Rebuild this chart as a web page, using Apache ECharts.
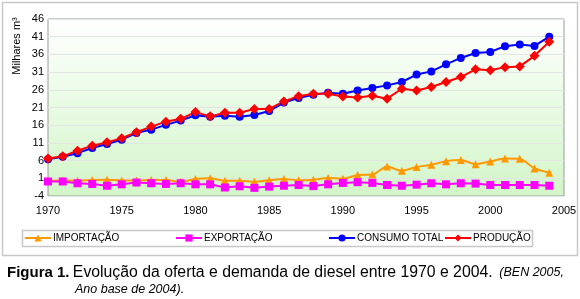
<!DOCTYPE html>
<html>
<head>
<meta charset="utf-8">
<script src="https://cdn.jsdelivr.net/npm/echarts@6/dist/echarts.min.js"></script>
<style>
  html, body { margin: 0; padding: 0; background: #fff; }
  #chart { width: 580px; height: 299px; }
</style>
</head>
<body>
<div id="chart"></div>
<script>
// anos 1970..2004
const years = [];
for (let y = 1970; y <= 2004; y++) years.push(y);

const importacao = [0.3, 0.4, 0.3, 0.5, 0.6, 0.4, 0.4, 0.5, 0.5, 0.0,
  0.8, 1.0, 0.3, 0.3, 0.0, 0.45, 0.8, 0.45, 0.6, 1.1,
  0.9, 1.9, 2.05, 4.3, 3.1, 4.2, 4.8, 5.85, 6.2, 5.0,
  5.75, 6.6, 6.5, 3.8, 2.6];
const exportacao = [0.1, 0.1, -0.4, -0.6, -1.1, -0.7, -0.2, -0.4, -0.6, -0.4,
  -0.7, -0.7, -1.6, -1.25, -1.7, -1.35, -1.1, -0.9, -1.2, -0.7,
  -0.3, -0.1, -0.3, -0.9, -1.1, -0.8, -0.4, -0.7, -0.4, -0.5,
  -0.9, -0.9, -0.9, -0.9, -1.1];
const consumoTotal = [6.4, 7.1, 8.1, 9.55, 10.7, 11.9, 13.8, 14.75, 16.1, 17.3,
  18.8, 18.4, 18.7, 18.4, 18.9, 20.0, 22.4, 23.7, 24.6, 25.2,
  24.9, 25.8, 26.5, 27.25, 28.2, 30.3, 31.2, 33.2, 35.0, 36.4,
  36.7, 38.3, 38.8, 38.4, 41.0];
const producao = [6.6, 7.2, 8.8, 10.2, 11.15, 12.3, 14.0, 15.6, 17.0, 17.8,
  19.7, 18.5, 19.5, 19.5, 20.6, 20.6, 22.7, 24.2, 24.9, 24.9,
  24.1, 23.8, 24.3, 23.5, 26.3, 25.8, 26.8, 28.2, 29.6, 31.8,
  31.5, 32.4, 32.6, 35.6, 39.6];

const yTicks = [-4, 1, 6, 11, 16, 21, 26, 31, 36, 41, 46];

const pairs = arr => arr.map((v, i) => [years[i], v]);
const font = 'Arial, "Liberation Sans", sans-serif';

const chart = echarts.init(document.getElementById('chart'));

const legendItem = (name, left) => ({
  data: [name],
  left: left,
  top: 233,
  padding: 0,
  itemWidth: 26,
  itemHeight: 9,
  itemGap: 0,
  selectedMode: false,
  textStyle: { fontFamily: font, fontSize: 10, color: '#000', padding: [0, 0, 0, -3] }
});

chart.setOption({
  animation: false,
  grid: {
    left: 48, top: 19, right: 16, bottom: 103,
    show: true,
    borderColor: '#9a9a9a',
    borderWidth: 1,
    backgroundColor: {
      type: 'linear', x: 0, y: 0, x2: 0, y2: 1,
      colorStops: [
        { offset: 0, color: '#ffffff' },
        { offset: 1, color: '#d2f5c8' }
      ]
    }
  },
  legend: [
    legendItem('IMPORTAÇÃO', 24),
    legendItem('EXPORTAÇÃO', 175),
    legendItem('CONSUMO TOTAL', 328),
    legendItem('PRODUÇÃO', 444)
  ],
  xAxis: {
    type: 'value',
    min: 1970, max: 2005, interval: 5,
    axisLine: { show: false },
    axisTick: { show: false },
    splitLine: { show: false },
    axisLabel: {
      fontFamily: font, fontSize: 11, color: '#000', margin: 9,
      formatter: v => String(v)
    }
  },
  yAxis: {
    type: 'value',
    min: -4, max: 46,
    axisLine: { show: false },
    axisTick: { show: false, customValues: yTicks },
    axisLabel: { customValues: yTicks, fontFamily: font, fontSize: 11, color: '#000', margin: 4 },
    splitLine: { show: true, lineStyle: { color: '#e2e6e2', width: 1 } }
  },
  series: [
    {
      name: 'IMPORTAÇÃO', type: 'line', data: pairs(importacao),
      smooth: 0.25,
      symbol: 'triangle', symbolSize: 8,
      itemStyle: { color: '#ff9900' },
      lineStyle: { color: '#ff9900', width: 2 }
    },
    {
      name: 'EXPORTAÇÃO', type: 'line', data: pairs(exportacao),
      symbol: 'rect', symbolSize: 8,
      itemStyle: { color: '#ff00ff' },
      lineStyle: { color: '#ff00ff', width: 2 }
    },
    {
      name: 'CONSUMO TOTAL', type: 'line', data: pairs(consumoTotal),
      symbol: 'circle', symbolSize: 8,
      itemStyle: { color: '#0000ff' },
      lineStyle: { color: '#0000ff', width: 2 }
    },
    {
      name: 'PRODUÇÃO', type: 'line', data: pairs(producao),
      symbol: 'diamond', symbolSize: 10,
      itemStyle: { color: '#ff0000' },
      lineStyle: { color: '#ff0000', width: 2 }
    }
  ],
  graphic: [
    {
      type: 'rect', silent: true, z: -10,
      shape: { x: 2.5, y: 2.5, width: 575, height: 253 },
      style: { fill: 'none', stroke: '#c8c8c8', lineWidth: 1.5 }
    },
    {
      type: 'rect', silent: true,
      shape: { x: 22.5, y: 230.5, width: 510, height: 16 },
      style: { fill: 'none', stroke: '#c8c8c8', lineWidth: 1.5 }
    },
    {
      type: 'text', silent: true,
      x: 17, y: 46, rotation: Math.PI / 2,
      style: {
        text: 'Milhares m³', font: '11px ' + font, fill: '#000',
        align: 'center', verticalAlign: 'middle'
      }
    },
    {
      type: 'text', silent: true,
      x: 7, y: 273,
      style: {
        text: '{b|Figura 1.} {n|Evolução da oferta e demanda de diesel entre 1970 e 2004.}  {i|(BEN 2005,}',
        verticalAlign: 'middle',
        rich: {
          b: { fontFamily: font, fontSize: 15, fontWeight: 'bold', fill: '#000' },
          n: { fontFamily: font, fontSize: 15.8, fill: '#000' },
          i: { fontFamily: font, fontSize: 12.5, fontStyle: 'italic', fill: '#000' }
        }
      }
    },
    {
      type: 'text', silent: true,
      x: 75, y: 290,
      style: {
        text: 'Ano base de 2004).', font: 'italic 12.5px ' + font, fill: '#000',
        verticalAlign: 'middle'
      }
    }
  ]
});
</script>
</body>
</html>
